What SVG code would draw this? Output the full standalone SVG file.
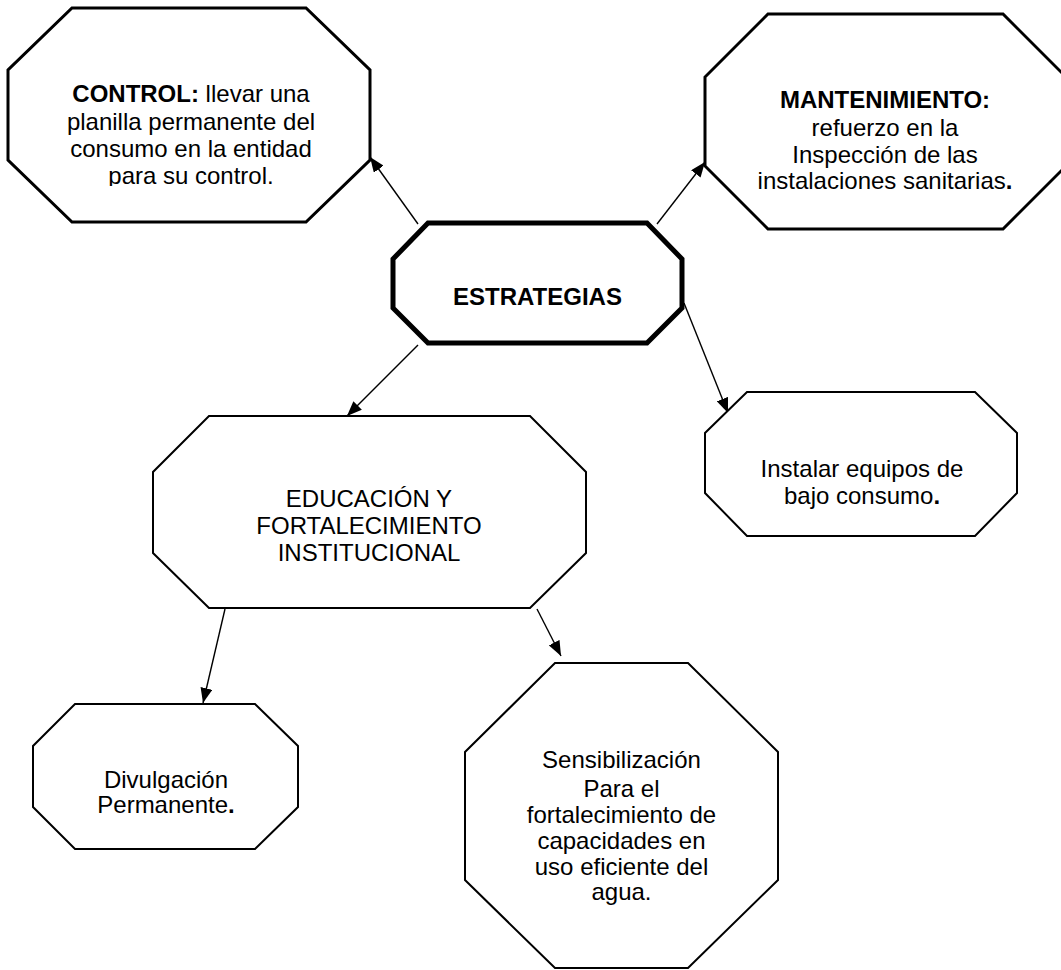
<svg xmlns="http://www.w3.org/2000/svg" width="1061" height="970" viewBox="0 0 1061 970">
  <style>
    .oct { fill: #ffffff; stroke: #000000; stroke-linejoin: miter; }
    .t { font-family: "Liberation Sans", Arial, sans-serif; font-size: 24px; fill: #000000; text-anchor: middle; }
    .b { font-weight: bold; }
    .conn line { stroke: #000000; stroke-width: 1.4; marker-end: url(#arrow); }
  </style>
  <defs>
    <marker id="arrow" markerUnits="userSpaceOnUse" markerWidth="16" markerHeight="12" refX="15" refY="6" orient="auto">
      <path d="M0,0 L15,6 L0,12 z" fill="#000000"/>
    </marker>
    <clipPath id="clip-control">
      <rect x="0" y="0" width="400" height="186"/>
    </clipPath>
  </defs>
  <rect x="0" y="0" width="1061" height="970" fill="#ffffff"/>

  <!-- connectors -->
  <g id="connectors" class="conn">
    <line x1="418" y1="224" x2="370" y2="157"/>
    <line x1="657" y1="224" x2="705" y2="162"/>
    <line x1="418" y1="345" x2="347" y2="416"/>
    <line x1="684" y1="303" x2="728" y2="413"/>
    <line x1="225" y1="609" x2="203" y2="703"/>
    <line x1="537" y1="609" x2="561" y2="656"/>
  </g>

  <g id="node-control">
    <polygon class="oct" stroke-width="3" points="72,8 306,8 370,70 370,160 306,222 72,222 8,160 8,70"/>
    <g clip-path="url(#clip-control)">
      <text class="t" x="191" y="102"><tspan class="b">CONTROL:</tspan> llevar una</text>
      <text class="t" x="191" y="130">planilla permanente del</text>
      <text class="t" x="191" y="157">consumo en la entidad</text>
      <text class="t" x="191" y="184">para su control.</text>
    </g>
  </g>

  <g id="node-mantenimiento">
    <polygon class="oct" stroke-width="3" points="768,14 1003,14 1066,77 1066,166 1003,229 768,229 705,166 705,77"/>
    <text class="t b" x="885" y="108">MANTENIMIENTO:</text>
    <text class="t" x="885" y="136">refuerzo en la</text>
    <text class="t" x="885" y="163">Inspección de las</text>
    <text class="t" x="885" y="189">instalaciones sanitarias<tspan class="b">.</tspan></text>
  </g>

  <g id="node-estrategias">
    <polygon class="oct" stroke-width="5" points="428,223 647,223 682,259 682,308 647,343 428,343 393,308 393,259"/>
    <text class="t b" x="537.5" y="305">ESTRATEGIAS</text>
  </g>

  <g id="node-educacion">
    <polygon class="oct" stroke-width="2" points="209,416 530,416 586,472 586,553 530,608 209,608 153,553 153,472"/>
    <text class="t" x="369" y="507">EDUCACIÓN Y</text>
    <text class="t" x="369" y="534">FORTALECIMIENTO</text>
    <text class="t" x="369" y="561">INSTITUCIONAL</text>
  </g>

  <g id="node-instalar">
    <polygon class="oct" stroke-width="2" points="747,392 975,392 1017,433 1017,493 975,536 747,536 705,493 705,433"/>
    <text class="t" x="862" y="477">Instalar equipos de</text>
    <text class="t" x="862" y="504">bajo consumo<tspan class="b">.</tspan></text>
  </g>

  <g id="node-divulgacion">
    <polygon class="oct" stroke-width="2" points="75,704 255,704 298,746 298,807 255,849 75,849 33,807 33,746"/>
    <text class="t" x="166" y="788">Divulgación</text>
    <text class="t" x="166" y="813">Permanente<tspan class="b">.</tspan></text>
  </g>

  <g id="node-sensibilizacion">
    <polygon class="oct" stroke-width="2" points="555,663 688,663 778,752 778,880 688,968 555,968 465,880 465,752"/>
    <text class="t" x="621.5" y="768">Sensibilización</text>
    <text class="t" x="621.5" y="797">Para el</text>
    <text class="t" x="621.5" y="823">fortalecimiento de</text>
    <text class="t" x="621.5" y="849">capacidades en</text>
    <text class="t" x="621.5" y="875">uso eficiente del</text>
    <text class="t" x="621.5" y="900">agua.</text>
  </g>
</svg>
